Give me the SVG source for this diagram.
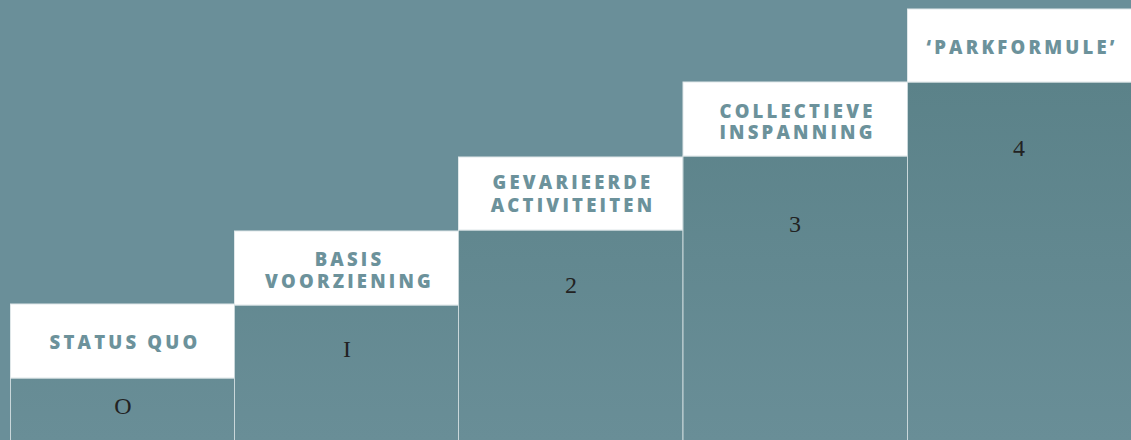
<svg xmlns="http://www.w3.org/2000/svg" width="1131" height="440" viewBox="0 0 1131 440">
<defs>
<linearGradient id="body" gradientUnits="userSpaceOnUse" x1="0" y1="82" x2="0" y2="440">
<stop offset="0" stop-color="#5b8289"/>
<stop offset="1" stop-color="#698e97"/>
</linearGradient>
<style>
.bg{fill:#6a8f99}
.box{fill:#ffffff;stroke:#dfe7e9;stroke-width:1}
.body{fill:url(#body);stroke:#c9d7da;stroke-width:1}
.lbl{font-family:"Open Sans","Liberation Sans",sans-serif;font-weight:800;font-size:18.5px;letter-spacing:3.2px;fill:#6c929b;text-anchor:middle}
.num{font-family:"Liberation Serif","DejaVu Serif",serif;font-size:24px;fill:#222222;text-anchor:middle}
</style>
</defs>
<rect class="bg" x="0" y="0" width="1131" height="440"/>
<g id="connectors"/>
<g id="step0">
<rect class="body" x="10.5" y="378" width="224" height="70"/>
<rect class="box" x="10.5" y="304" width="224" height="74"/>
<text class="lbl" x="125" y="349">STATUS QUO</text>
<text class="num" x="123" y="414">O</text>
</g>
<g id="step1">
<rect class="body" x="234.5" y="305" width="224" height="143"/>
<rect class="box" x="234.5" y="231" width="224" height="74"/>
<text class="lbl"><tspan x="349.5" y="266">BASIS</tspan><tspan x="349.5" y="287.5">VOORZIENING</tspan></text>
<text class="num" x="347" y="357">I</text>
</g>
<g id="step2">
<rect class="body" x="458.5" y="230" width="224.5" height="218"/>
<rect class="box" x="458.5" y="157" width="224.5" height="73"/>
<text class="lbl"><tspan x="573" y="189">GEVARIEERDE</tspan><tspan x="573" y="211.5">ACTIVITEITEN</tspan></text>
<text class="num" x="571" y="293">2</text>
</g>
<g id="step3">
<rect class="body" x="683" y="156" width="224.5" height="292"/>
<rect class="box" x="683" y="82" width="224.5" height="74"/>
<text class="lbl"><tspan x="797.5" y="117.5">COLLECTIEVE</tspan><tspan x="797.5" y="138.5">INSPANNING</tspan></text>
<text class="num" x="795" y="232">3</text>
</g>
<g id="step4">
<rect class="body" x="907.5" y="82" width="230" height="366"/>
<rect class="box" x="907.5" y="9" width="230" height="73"/>
<text class="lbl" x="1022" y="54">‘PARKFORMULE’</text>
<text class="num" x="1019" y="156">4</text>
</g>
</svg>
